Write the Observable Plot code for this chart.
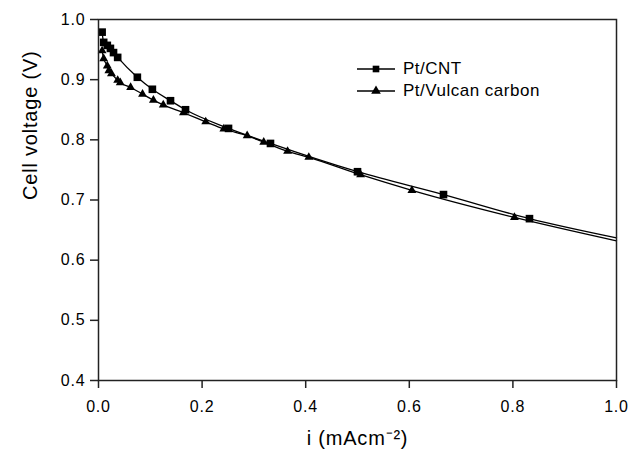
<!DOCTYPE html>
<html>
<head>
<meta charset="utf-8">
<script src="https://cdn.jsdelivr.net/npm/d3@7"></script>
<script src="https://cdn.jsdelivr.net/npm/@observablehq/plot@0.6"></script>
<style>
  html, body { margin: 0; padding: 0; background: #fff; }
  #wrap { position: relative; width: 629px; height: 455px; font-family: "Liberation Sans", Arial, sans-serif; }
  #legend { position: absolute; left: 355px; top: 58px; font-size: 17px; color: #000; letter-spacing: 0.5px; }
  #legend .row { display: flex; align-items: center; height: 22px; }
  #legend svg { margin-right: 6px; }
</style>
</head>
<body>
<div id="wrap"></div>
<script>
// Pt/CNT (squares)
const cntI = [0.007, 0.010, 0.017, 0.023, 0.029, 0.037, 0.075, 0.104, 0.139, 0.168, 0.251, 0.332, 0.500, 0.666, 0.832];
const cntV = [0.979, 0.962, 0.957, 0.952, 0.945, 0.937, 0.904, 0.884, 0.865, 0.850, 0.819, 0.794, 0.747, 0.709, 0.669];
const cntEnd = [1.0, 0.637];
// Pt/Vulcan carbon (triangles)
const vulI = [0.007, 0.010, 0.017, 0.020, 0.025, 0.037, 0.042, 0.062, 0.085, 0.106, 0.125, 0.164, 0.207, 0.242, 0.287, 0.319, 0.365, 0.406, 0.506, 0.605, 0.803];
const vulV = [0.948, 0.935, 0.923, 0.915, 0.910, 0.899, 0.895, 0.887, 0.876, 0.866, 0.858, 0.845, 0.830, 0.818, 0.807, 0.796, 0.781, 0.771, 0.742, 0.716, 0.671];
const vulEnd = [1.0, 0.632];

const xTicks = [0.0, 0.2, 0.4, 0.6, 0.8, 1.0];
const yTicks = [0.4, 0.5, 0.6, 0.7, 0.8, 0.9, 1.0];
const seriesNames = ["Pt/CNT", "Pt/Vulcan carbon"];
const xTitle = "i (mAcm\u207B\u00B2)";
const yTitle = "Cell voltage (V)";

const cnt = cntI.map((x, k) => ({x, y: cntV[k]}));
const vul = vulI.map((x, k) => ({x, y: vulV[k]}));
const cntLine = [...cnt, {x: cntEnd[0], y: cntEnd[1]}];
const vulLine = [...vul, {x: vulEnd[0], y: vulEnd[1]}];

const chart = Plot.plot({
  width: 629,
  height: 455,
  marginLeft: 98,
  marginRight: 13,
  marginTop: 19,
  marginBottom: 75,
  style: {background: "#fff", color: "#000", fontFamily: "'Liberation Sans', Arial, sans-serif", letterSpacing: "0.8px"},
  x: {domain: [0, 1]},
  y: {domain: [0.4, 1.0]},
  marks: [
    Plot.line(cntLine, {x: "x", y: "y", curve: "monotone-x", stroke: "#000", strokeWidth: 1.3}),
    Plot.line(vulLine, {x: "x", y: "y", curve: "monotone-x", stroke: "#000", strokeWidth: 1.3}),
    Plot.dot(cnt, {x: "x", y: "y", symbol: "square", r: 4.3, fill: "#000", stroke: "none"}),
    Plot.dot(vul, {x: "x", y: "y", symbol: "triangle", r: 3.3, fill: "#000", stroke: "none"}),
    Plot.frame({stroke: "#222", strokeWidth: 1.5}),
    Plot.axisX({ticks: xTicks, tickFormat: d3.format(".1f"), tickSize: 8, tickPadding: 12,
      fontSize: 16, label: null, stroke: "#222", strokeWidth: 1.5}),
    Plot.axisY({ticks: yTicks, tickFormat: d3.format(".1f"), tickSize: 8, tickPadding: 5,
      fontSize: 16, label: null, stroke: "#222", strokeWidth: 1.5}),
    Plot.text([xTitle], {text: d => d, frameAnchor: "bottom", dy: 64, fontSize: 20, fill: "#000"}),
    Plot.text([yTitle], {text: d => d, frameAnchor: "left", dx: -68, rotate: -90, fontSize: 20, fill: "#000"})
  ]
});

const wrap = document.getElementById("wrap");
wrap.appendChild(chart);

// legend
const legend = document.createElement("div");
legend.id = "legend";
const syms = [d3.symbolSquare, d3.symbolTriangle];
const sizes = [44, 40];
seriesNames.forEach((name, k) => {
  const row = document.createElement("div");
  row.className = "row";
  const s = d3.create("svg").attr("width", 42).attr("height", 22);
  s.append("line").attr("x1", 2).attr("x2", 40).attr("y1", 11).attr("y2", 11)
    .attr("stroke", "#000").attr("stroke-width", 1.3);
  s.append("path").attr("d", d3.symbol(syms[k], sizes[k])()).attr("transform", "translate(21,11)").attr("fill", "#000");
  row.appendChild(s.node());
  const t = document.createElement("span");
  t.textContent = name;
  row.appendChild(t);
  legend.appendChild(row);
});
wrap.appendChild(legend);
</script>
</body>
</html>
